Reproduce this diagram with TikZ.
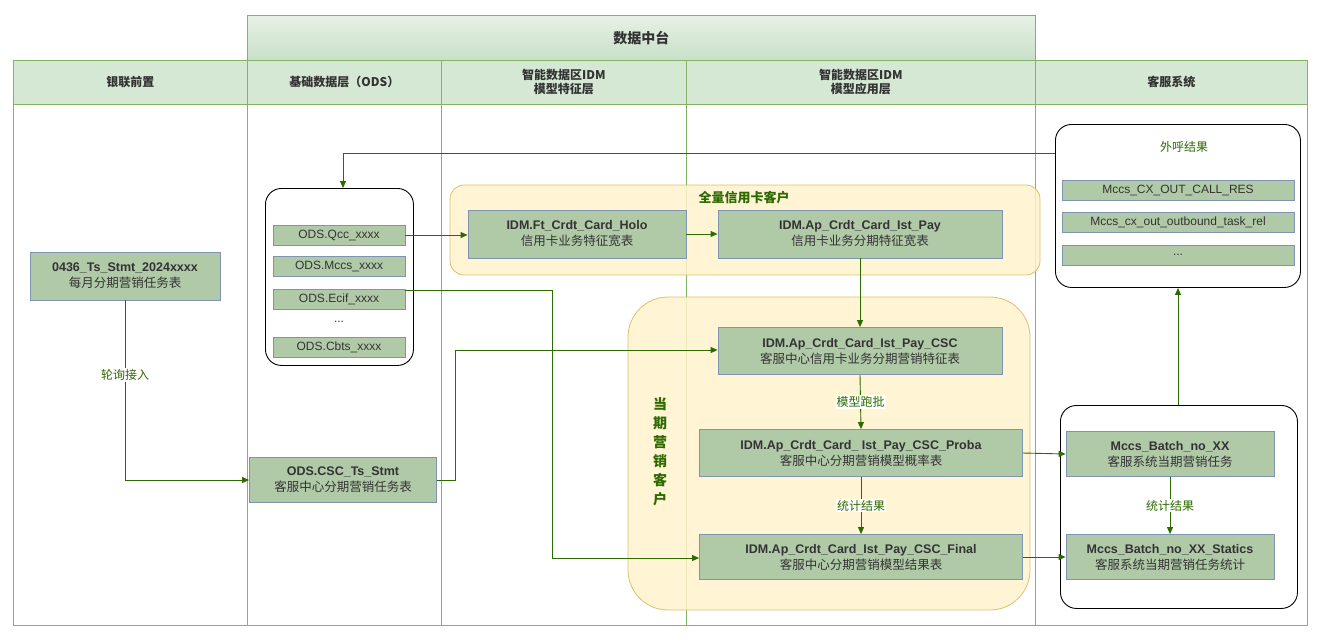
\documentclass[tikz,border=0pt]{standalone}
\usepackage{fontspec}
\setmainfont{Liberation Sans}
\newfontfamily\cjk{Noto Sans CJK SC}
\usetikzlibrary{arrows.meta}
\definecolor{gfill}{HTML}{D5E8D4}
\definecolor{gline}{HTML}{82B366}
\definecolor{nfill}{HTML}{B0CAA8}
\definecolor{nline}{HTML}{7F94B0}
\definecolor{arr}{HTML}{2D6A00}
\definecolor{yfill}{HTML}{FFF2CC}
\definecolor{yline}{HTML}{D6B656}
\definecolor{txt}{HTML}{333333}
\begin{document}
\begin{tikzpicture}[x=1pt,y=-1pt,
 hdr/.style={draw=gline,fill=gfill,line width=0.8pt,font=\fontsize{12}{14}\selectfont\bfseries\cjk,text=txt,align=center},
 col/.style={draw=gline,line width=0.8pt},
 nd/.style={draw=nline,fill=nfill,line width=0.8pt,align=center,text=txt,inner sep=0pt,font=\fontsize{12.5}{16}\selectfont},
 it/.style={draw=nline,fill=nfill,line width=0.8pt,text=txt,inner sep=0pt,font=\fontsize{12}{14}\selectfont},
 grp/.style={draw=black,line width=0.9pt,rounded corners=16pt,fill=white},
 yel/.style={draw=yline,fill=yfill,opacity=0.85,line width=0.8pt},
 ar/.style={draw=arr,line width=0.9pt,-{Triangle[length=7pt,width=6pt]}},
 lbl/.style={fill=white,text=arr,font=\fontsize{12}{14}\selectfont\cjk,inner sep=1pt}]
\useasboundingbox (0,0) rectangle (1321,641);
% headers
\node[hdr,minimum width=788pt,minimum height=45pt,anchor=north west,top color=gfill!60,bottom color=gfill!90!green!80!black!20!gfill] (top) at (247,15) {\fontsize{14}{16}\selectfont 数据中台};
\node[hdr,minimum width=234pt,minimum height=44pt,anchor=north west] (h1) at (13,60) {银联前置};
\node[hdr,minimum width=194pt,minimum height=44pt,anchor=north west] (h2) at (247,60) {基础数据层（ODS）};
\node[hdr,minimum width=245pt,minimum height=44pt,anchor=north west] (h3) at (441,60) {智能数据区IDM\\模型特征层};
\node[hdr,minimum width=349pt,minimum height=44pt,anchor=north west] (h4) at (686,60) {智能数据区IDM\\模型应用层};
\node[hdr,minimum width=272pt,minimum height=44pt,anchor=north west] (h5) at (1035,60) {客服系统};
\foreach \a/\b in {13/247,247/441,441/686,686/1035,1035/1307}
  \draw[col] (\a,104) rectangle (\b,625);
% yellow groups
\draw[yel,rounded corners=14pt] (450,185) rectangle (1040,275);
\node[text=arr,font=\fontsize{13}{15}\selectfont\bfseries\cjk] (g1) at (744,198) {全量信用卡客户};
\draw[yel,rounded corners=40pt] (628,297) rectangle (1030,610);
\node[text=arr,font=\fontsize{14}{19}\selectfont\bfseries\cjk,align=center] (g2) at (660,452) {当\\期\\营\\销\\客\\户};
% ODS group
\node[grp,minimum width=148pt,minimum height=177pt,anchor=north west] (ods) at (265,188) {};
\node[it,minimum width=132pt,minimum height=20pt] (q) at (339,235) {ODS.Qcc\_xxxx};
\node[it,minimum width=132pt,minimum height=20pt] (m) at (339,266) {ODS.Mccs\_xxxx};
\node[it,minimum width=132pt,minimum height=20pt] (e) at (339,299) {ODS.Ecif\_xxxx};
\node[text=txt,font=\fontsize{12}{14}\selectfont] (dots) at (339,322) {...};
\node[it,minimum width=132pt,minimum height=20pt] (c) at (339,347) {ODS.Cbts\_xxxx};
% right groups
\node[grp,minimum width=245pt,minimum height=163pt,anchor=north west] (out) at (1055,124) {};
\node[text=arr,font=\fontsize{12}{14}\selectfont\cjk] (outt) at (1184,147) {外呼结果};
\node[it,minimum width=232pt,minimum height=20pt] (r1) at (1178,190) {Mccs\_CX\_OUT\_CALL\_RES};
\node[it,minimum width=232pt,minimum height=20pt] (r2) at (1178,222) {Mccs\_cx\_out\_outbound\_task\_rel};
\node[it,minimum width=232pt,minimum height=20pt] (r3) at (1178,255) {...};
\node[grp,minimum width=237pt,minimum height=203pt,anchor=north west] (cs) at (1060,405) {};
% nodes
\node[nd,minimum width=190pt,minimum height=48pt] (n0436) at (125,276) {\textbf{0436\_Ts\_Stmt\_2024xxxx}\\{\cjk 每月分期营销任务表}};
\node[nd,minimum width=187pt,minimum height=45pt] (csc0) at (343,480) {\textbf{ODS.CSC\_Ts\_Stmt}\\{\cjk 客服中心分期营销任务表}};
\node[nd,minimum width=218pt,minimum height=48pt] (holo) at (577,234) {\textbf{IDM.Ft\_Crdt\_Card\_Holo}\\{\cjk 信用卡业务特征宽表}};
\node[nd,minimum width=284pt,minimum height=48pt] (ist) at (860,234) {\textbf{IDM.Ap\_Crdt\_Card\_Ist\_Pay}\\{\cjk 信用卡业务分期特征宽表}};
\node[nd,minimum width=284pt,minimum height=47pt] (csc) at (860,351) {\textbf{IDM.Ap\_Crdt\_Card\_Ist\_Pay\_CSC}\\{\cjk 客服中心信用卡业务分期营销特征表}};
\node[nd,minimum width=323pt,minimum height=47pt] (pro) at (861,453) {\textbf{IDM.Ap\_Crdt\_Card\_ Ist\_Pay\_CSC\_Proba}\\{\cjk 客服中心分期营销模型概率表}};
\node[nd,minimum width=323pt,minimum height=45pt] (fin) at (861,557) {\textbf{IDM.Ap\_Crdt\_Card\_Ist\_Pay\_CSC\_Final}\\{\cjk 客服中心分期营销模型结果表}};
\node[nd,minimum width=208pt,minimum height=45pt] (bat) at (1170,454) {\textbf{Mccs\_Batch\_no\_XX}\\{\cjk 客服系统当期营销任务}};
\node[nd,minimum width=208pt,minimum height=45pt] (sta) at (1170,557) {\textbf{Mccs\_Batch\_no\_XX\_Statics}\\{\cjk 客服系统当期营销任务统计}};
% connectors
\draw[ar] (out.west |- 0,153) -- (343,153) -- (ods.north -| 343,0);
\draw[ar] (q.east) -- (holo.west |- q.east);
\draw[ar] (holo.east) -- (ist.west);
\draw[ar] (ist.south) -- (csc.north);
\draw[ar] (e.east |- 0,290) -- (552,290) -- (552,558) -- (fin.west |- 0,558);
\draw[ar] (n0436.south) -- (125,480) -- (csc0.west);
\node[lbl] (l1) at (125,375) {轮询接入};
\draw[ar] (csc0.east) -- (455,480) -- (455,350) -- (csc.west |- 0,350);
\draw[ar] (csc.south) -- (pro.north) node[lbl,midway] {模型跑批};
\draw[ar] (pro.south) -- (fin.north) node[lbl,midway] {统计结果};
\draw[ar] (pro.east) -- (bat.west);
\draw[ar] (fin.east) -- (sta.west);
\draw[ar] (bat.south) -- (sta.north) node[lbl,midway] {统计结果};
\draw[ar] (cs.north -| 1178,0) -- (out.south -| 1178,0);
\end{tikzpicture}
\end{document}
